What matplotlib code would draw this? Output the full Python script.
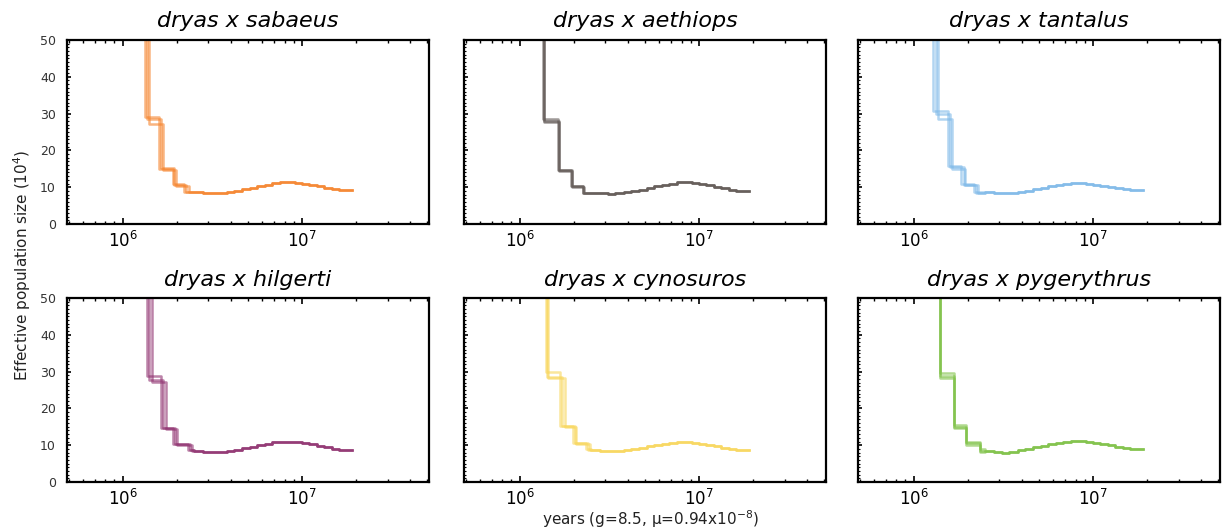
import numpy as np
import matplotlib.pyplot as plt
from matplotlib.ticker import LogLocator, MultipleLocator, NullFormatter

# panel titles and colours
titles = ['dryas x sabaeus', 'dryas x aethiops', 'dryas x tantalus',
          'dryas x hilgerti', 'dryas x cynosuros', 'dryas x pygerythrus']
colors = ['#F5822A', '#5E5652', '#7DB8E8', '#8E2F6E', '#F8D65A', '#7CC043']

# shared time grid (years) for the slow part of the curves
tail_t = [2.5e6, 2.8e6, 3.1e6, 3.4e6, 3.8e6, 4.2e6, 4.6e6, 5.1e6, 5.6e6, 6.2e6, 6.8e6,
          7.5e6, 8.3e6, 9.1e6, 1.0e7, 1.1e7, 1.21e7, 1.33e7, 1.46e7, 1.6e7, 1.75e7, 1.9e7]

# Ne (x10^4) along tail_t, one list per panel
sab_tail = [8.6, 8.4, 8.3, 8.4, 8.7, 9.0, 9.4, 9.8, 10.3, 10.7, 11.1, 11.4, 11.4, 11.2, 10.9, 10.6, 10.3, 9.9, 9.6, 9.2, 9.2, 9.2]
aet_tail = [8.5, 8.3, 8.2, 8.3, 8.6, 8.9, 9.3, 9.7, 10.2, 10.6, 11.0, 11.3, 11.3, 11.1, 10.8, 10.5, 10.1, 9.7, 9.3, 8.9, 8.9, 8.9]
tan_tail = [8.7, 8.5, 8.4, 8.5, 8.8, 9.1, 9.4, 9.8, 10.2, 10.6, 10.9, 11.1, 11.1, 10.9, 10.7, 10.4, 10.1, 9.8, 9.5, 9.2, 9.2, 9.2]
hil_tail = [8.5, 8.2, 8.1, 8.2, 8.5, 8.8, 9.2, 9.6, 10.0, 10.4, 10.8, 11.0, 11.0, 10.8, 10.5, 10.2, 9.8, 9.4, 9.0, 8.7, 8.7, 8.7]
cyn_tail = [8.6, 8.4, 8.3, 8.4, 8.7, 9.0, 9.3, 9.7, 10.0, 10.3, 10.6, 10.8, 10.8, 10.6, 10.3, 10.0, 9.7, 9.3, 9.0, 8.8, 8.8, 8.8]
pyg_tail = [8.4, 8.1, 8.0, 8.2, 8.6, 9.0, 9.4, 9.8, 10.2, 10.6, 10.9, 11.1, 11.1, 10.9, 10.6, 10.3, 10.0, 9.6, 9.2, 9.0, 9.0, 9.0]

# early steps per replicate: step times and Ne levels
sab_t = [[1.34e6, 1.59e6, 1.90e6, 2.19e6], [1.40e6, 1.68e6, 1.98e6, 2.34e6], [1.37e6, 1.63e6, 1.93e6, 2.25e6]]
sab_n = [[29.2, 14.9, 10.8, 8.7], [27.3, 14.6, 10.4, 8.6], [28.6, 15.2, 10.6, 8.8]]
aet_t = [[1.35e6, 1.64e6, 1.94e6, 2.25e6], [1.37e6, 1.66e6, 1.96e6, 2.28e6], [1.36e6, 1.65e6, 1.95e6, 2.26e6]]
aet_n = [[28.4, 14.7, 10.3, 8.5], [27.8, 14.4, 10.1, 8.3], [28.1, 14.6, 10.2, 8.4]]
tan_t = [[1.29e6, 1.55e6, 1.84e6, 2.16e6], [1.36e6, 1.64e6, 1.94e6, 2.28e6], [1.33e6, 1.60e6, 1.90e6, 2.22e6]]
tan_n = [[30.6, 15.8, 10.8, 8.6], [28.6, 15.0, 10.5, 8.4], [30.0, 15.4, 10.7, 8.5]]
hil_t = [[1.37e6, 1.64e6, 1.92e6, 2.30e6], [1.46e6, 1.75e6, 2.00e6, 2.44e6], [1.41e6, 1.69e6, 1.96e6, 2.36e6]]
hil_n = [[28.8, 14.8, 10.2, 8.7], [27.3, 14.5, 10.0, 8.3], [27.6, 14.8, 10.2, 8.6]]
cyn_t = [[1.40e6, 1.67e6, 1.99e6, 2.34e6], [1.44e6, 1.78e6, 2.07e6, 2.46e6], [1.42e6, 1.72e6, 2.03e6, 2.40e6]]
cyn_n = [[30.0, 15.2, 10.5, 8.9], [28.2, 15.0, 10.3, 8.6], [28.6, 15.2, 10.5, 8.8]]
pyg_t = [[1.41e6, 1.69e6, 1.97e6, 2.34e6], [1.41e6, 1.69e6, 1.97e6, 2.34e6], [1.41e6, 1.69e6, 1.97e6, 2.34e6]]
pyg_n = [[29.5, 15.5, 11.0, 8.9], [28.2, 14.6, 10.0, 8.2], [28.8, 15.0, 10.5, 8.5]]

panels = [(sab_t, sab_n, sab_tail), (aet_t, aet_n, aet_tail), (tan_t, tan_n, tan_tail),
          (hil_t, hil_n, hil_tail), (cyn_t, cyn_n, cyn_tail), (pyg_t, pyg_n, pyg_tail)]

W, H = 1222, 531
fig = plt.figure(figsize=(W / 100, H / 100), dpi=100)

col_left = [67, 464, 858]
row_top = [40, 298]
ax_w, ax_h = 362, 184

for k, (steps_t, steps_n, tail) in enumerate(panels):
    r, c = divmod(k, 3)
    ax = fig.add_axes([col_left[c] / W, (H - row_top[r] - ax_h) / H, ax_w / W, ax_h / H])
    for ts, ns in zip(steps_t, steps_n):
        x = [1e5] + ts + tail_t
        y = [80] + ns + tail
        ax.step(x, y, where='post', color=colors[k], lw=1.8, alpha=0.6)
    ax.set_xscale('log')
    ax.set_xlim(4.9e5, 5.1e7)
    ax.set_ylim(0, 50)
    ax.set_title(titles[k], fontsize=16, style='italic', pad=9)

    for s in ax.spines.values():
        s.set_linewidth(1.6)
        s.set_color('black')
    ax.xaxis.set_major_locator(LogLocator(base=10, numticks=10))
    ax.xaxis.set_minor_locator(LogLocator(base=10, subs=np.arange(2, 10), numticks=10))
    ax.xaxis.set_minor_formatter(NullFormatter())
    ax.yaxis.set_major_locator(MultipleLocator(10))
    ax.yaxis.set_minor_locator(MultipleLocator(1))
    ax.tick_params(axis='x', which='both', direction='in', top=True, bottom=True,
                   labelsize=12, pad=5)
    ax.tick_params(axis='x', which='major', length=4, width=1.2)
    ax.tick_params(axis='x', which='minor', length=2.5, width=1)
    ax.tick_params(axis='y', which='both', direction='in', left=True, right=False,
                   labelsize=9, labelcolor='#333333', pad=8)
    ax.tick_params(axis='y', which='major', length=3, width=1.2)
    ax.tick_params(axis='y', which='minor', length=1.5, width=0.8)
    if c != 0:
        ax.tick_params(axis='y', labelleft=False)

fig.text(650 / W, 1 - 525 / H, 'years (g=8.5, \u03bc=0.94x10$^{-8}$)', ha='center',
         va='baseline', fontsize=11, color='#222222')
fig.text(22 / W, 0.5, 'Effective population size (10$^4$)', rotation=90, ha='center',
         va='center', fontsize=11, color='#222222')

fig.savefig('out.png', dpi=100)
